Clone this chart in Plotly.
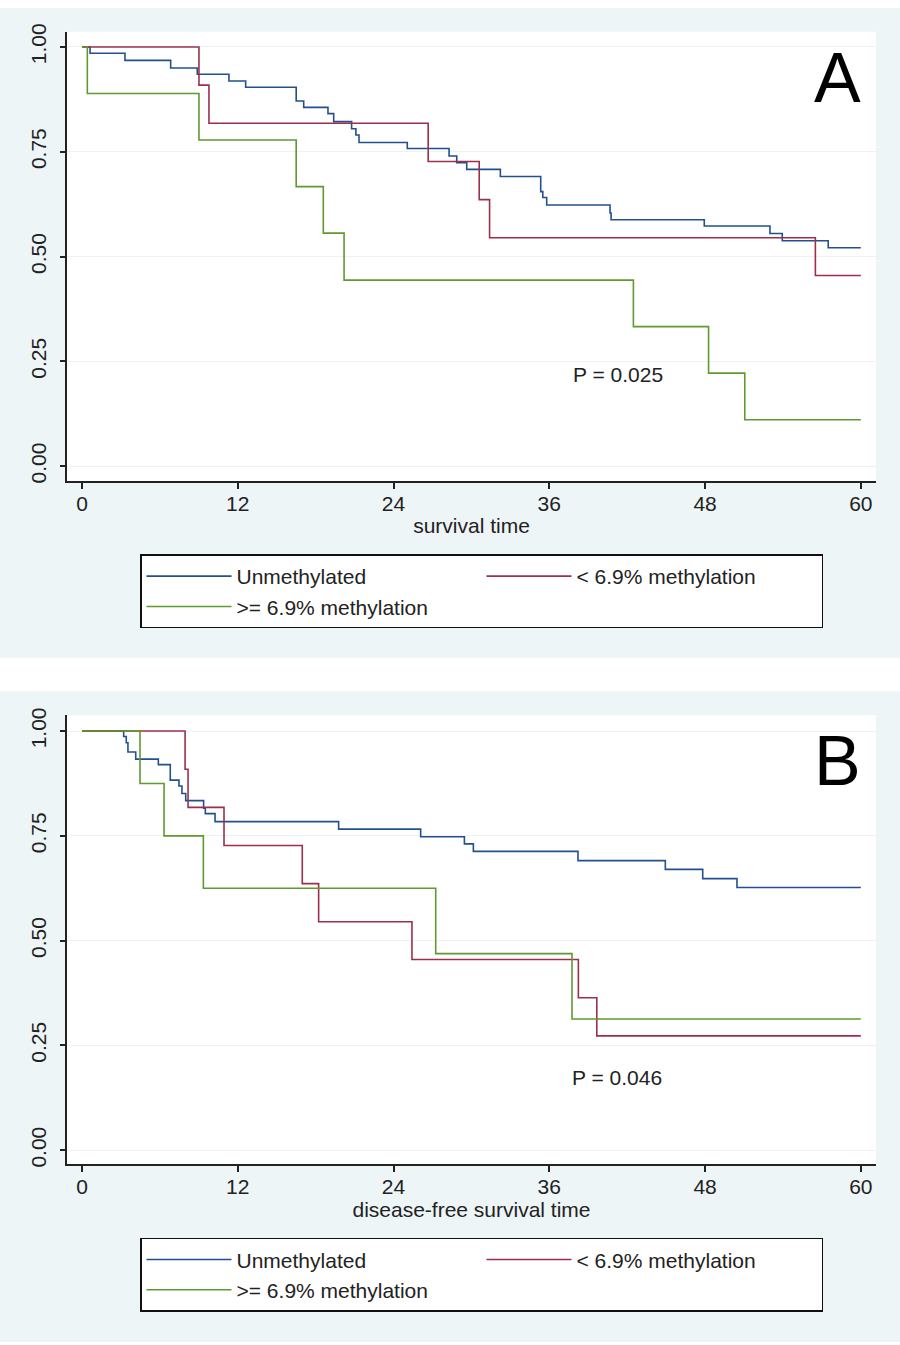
import plotly.graph_objects as go

# Kaplan-Meier estimates (time in months)
group_names = ["Unmethylated", "< 6.9% methylation", ">= 6.9% methylation"]
group_colors = ["#22508F", "#9E2F4B", "#5E9A2E"]

month_ticks = [0, 12, 24, 36, 48, 60]
surv_ticks = [0, 0.25, 0.5, 0.75, 1.0]
surv_ticktext = ["0.00", "0.25", "0.50", "0.75", "1.00"]

# A: overall survival
os_unmeth_t = [0, 0.62, 3.31, 6.83, 8.88, 11.32, 12.61, 16.5, 17.08, 18.95, 19.39, 20.77,
               21.1, 21.34, 25.06, 28.28, 28.87, 29.64, 32.23, 35.34, 35.5, 35.8, 40.68,
               40.76, 47.94, 53.0, 53.95, 57.49, 60]
os_unmeth_s = [1.0, 0.985, 0.968, 0.950, 0.935, 0.919, 0.904, 0.871, 0.856, 0.841, 0.822, 0.805,
               0.790, 0.772, 0.758, 0.740, 0.724, 0.708, 0.691, 0.655, 0.641, 0.623, 0.604,
               0.588, 0.573, 0.555, 0.538, 0.521, 0.521]
os_low_t = [0, 9.01, 9.78, 26.67, 30.6, 31.4, 56.5, 60]
os_low_s = [1.0, 0.909, 0.818, 0.727, 0.636, 0.545, 0.455, 0.455]
os_high_t = [0, 0.41, 9.01, 16.5, 18.59, 20.19, 42.48, 48.27, 51.06, 60]
os_high_s = [1.0, 0.889, 0.778, 0.667, 0.556, 0.444, 0.333, 0.222, 0.111, 0.111]

# B: disease-free survival
dfs_unmeth_t = [0, 3.21, 3.41, 3.54, 4.14, 5.88, 6.80, 7.47, 7.70, 7.99, 9.37, 9.5, 10.25,
                19.77, 26.09, 29.46, 30.15, 38.21, 44.94, 47.82, 50.46, 60]
dfs_unmeth_s = [1.0, 0.987, 0.972, 0.950, 0.933, 0.920, 0.883, 0.869, 0.851, 0.834, 0.816, 0.803,
                0.784, 0.766, 0.748, 0.731, 0.713, 0.691, 0.670, 0.648, 0.627, 0.627]
dfs_low_t = [0, 7.94, 8.17, 10.94, 16.97, 18.23, 25.42, 38.24, 39.66, 60]
dfs_low_s = [1.0, 0.909, 0.818, 0.727, 0.636, 0.545, 0.455, 0.364, 0.273, 0.273]
dfs_high_t = [0, 4.47, 6.32, 9.35, 27.25, 37.75, 60]
dfs_high_s = [1.0, 0.875, 0.75, 0.625, 0.469, 0.313, 0.313]

panels = [
    ("x", "y", "legend", [(os_unmeth_t, os_unmeth_s), (os_low_t, os_low_s), (os_high_t, os_high_s)]),
    ("x2", "y2", "legend2", [(dfs_unmeth_t, dfs_unmeth_s), (dfs_low_t, dfs_low_s), (dfs_high_t, dfs_high_s)]),
]

W, H = 900, 1345
BG = "#EEF5F7"
TICK_FONT = dict(family="Liberation Sans Narrow, Liberation Sans, Arial", size=21, color="#222")
TEXT_FONT = dict(family="Liberation Sans, Arial", size=21, color="#222")

fig = go.Figure()
for xa, ya, leg, curves in panels:
    for name, color, (t, s) in zip(group_names, group_colors, curves):
        fig.add_trace(go.Scatter(
            x=t, y=s, mode="lines", line_shape="hv", name=name,
            line=dict(color=color, width=1.6), xaxis=xa, yaxis=ya, legend=leg,
        ))


def px_x(p):
    return p / W


def px_y(p):
    return 1 - p / H


x_dom = [px_x(67), px_x(876)]
axis_common = dict(showline=True, linecolor="#222", linewidth=1.5, ticks="outside",
                   tickcolor="#222", tickwidth=1.5, zeroline=False, tickfont=TICK_FONT)

fig.update_layout(
    width=W, height=H, margin=dict(l=0, r=0, t=0, b=0),
    paper_bgcolor="white", plot_bgcolor="white", showlegend=True,
    xaxis=dict(domain=x_dom, range=[-1.156, 61.17], tickvals=month_ticks, ticklen=6,
               showgrid=False, anchor="y", ticklabelstandoff=-3,
               title=dict(text="survival time", font=TEXT_FONT, standoff=4), **axis_common),
    yaxis=dict(domain=[px_y(477), px_y(24)], range=[-0.0354, 1.0362], tickvals=surv_ticks,
               ticktext=surv_ticktext, tickangle=-90, ticklen=5, showgrid=True, ticklabelstandoff=6,
               gridcolor="#EEF2F3", gridwidth=1, anchor="x", **axis_common),
    xaxis2=dict(domain=x_dom, range=[-1.156, 61.17], tickvals=month_ticks, ticklen=6,
                showgrid=False, anchor="y2", ticklabelstandoff=-3,
                title=dict(text="disease-free survival time", font=TEXT_FONT, standoff=4), **axis_common),
    yaxis2=dict(domain=[px_y(1166), px_y(713)], range=[-0.0338, 1.0379], tickvals=surv_ticks,
                ticktext=surv_ticktext, tickangle=-90, ticklen=5, showgrid=True, ticklabelstandoff=6,
                gridcolor="#EEF2F3", gridwidth=1, anchor="x2", **axis_common),
)

for leg, top in [("legend", 551), ("legend2", 1240)]:
    fig.update_layout({leg: dict(
        orientation="h", x=px_x(140), y=px_y(top), xanchor="left", yanchor="top",
        xref="paper", yref="paper", bgcolor="white", bordercolor="#111", borderwidth=1.5,
        font=TEXT_FONT, entrywidth=240, entrywidthmode="pixels", itemwidth=85,
    )})

# panel backgrounds
fig.add_shape(type="rect", xref="paper", yref="paper", x0=0, x1=1, y0=px_y(655), y1=1,
              fillcolor=BG, line_width=0, layer="below")
fig.add_shape(type="rect", xref="paper", yref="paper", x0=0, x1=1, y0=0, y1=px_y(689),
              fillcolor=BG, line_width=0, layer="below")
for xa, ya in [("x", "y"), ("x2", "y2")]:
    fig.add_shape(type="rect", xref=xa + " domain", yref=ya + " domain", x0=0, x1=1, y0=0, y1=1,
                  fillcolor="white", line_width=0, layer="below")

fig.add_annotation(x=41.3, y=0.218, xref="x", yref="y", text="P = 0.025", showarrow=False,
                   font=TEXT_FONT)
fig.add_annotation(x=41.2, y=0.174, xref="x2", yref="y2", text="P = 0.046", showarrow=False,
                   font=TEXT_FONT)
for xa, ya, letter in [("x", "y", "A"), ("x2", "y2", "B")]:
    fig.add_annotation(x=0.953, y=0.898, xref=xa + " domain", yref=ya + " domain", text=letter,
                       showarrow=False, xanchor="center", yanchor="middle",
                       font=dict(family="Liberation Sans, Arial", size=70, color="black"))

fig.write_html("out.html", post_script="document.body.style.margin='0';",
               config={"displayModeBar": False})
